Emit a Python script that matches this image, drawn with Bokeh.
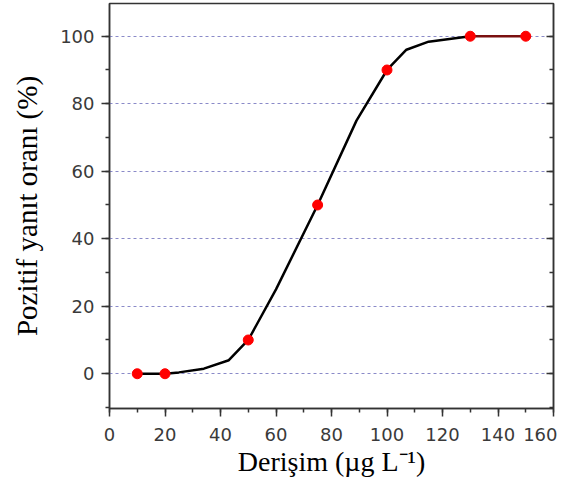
from bokeh.plotting import figure
from bokeh.models import Range1d, SingleIntervalTicker, LinearAxis
from bokeh.embed import file_html
from bokeh.resources import INLINE

# measured data points
conc = [10, 20, 50, 75, 100, 130, 150]
response = [0, 0, 10, 50, 90, 100, 100]

# fitted curve
curve_x = [10, 20, 25, 34, 43, 50, 60, 75, 89, 100, 107, 115, 130]
curve_y = [0, 0, 0.4, 1.5, 4, 10, 25, 50, 75, 90, 96, 98.4, 100]
plateau_x = [130, 150]
plateau_y = [100, 100]

x_ticks_interval = 20
y_ticks_interval = 20

p = figure(width=557, height=479, output_backend="svg", toolbar_location=None,
           x_range=Range1d(0, 160), y_range=Range1d(-10.3, 109.7),
           min_border_left=109, min_border_right=4, min_border_top=3, min_border_bottom=68)

p.background_fill_color = "white"
p.border_fill_color = "white"
p.outline_line_color = "#333333"
p.outline_line_width = 1.5

p.xaxis.ticker = SingleIntervalTicker(interval=x_ticks_interval, num_minor_ticks=2)
p.yaxis.ticker = SingleIntervalTicker(interval=y_ticks_interval, num_minor_ticks=2)

p.xgrid.grid_line_color = None
p.ygrid.ticker = SingleIntervalTicker(interval=y_ticks_interval)
p.ygrid.grid_line_color = "#8a8ac8"
p.ygrid.grid_line_dash = "3 3"
p.ygrid.grid_line_width = 1

for ax in (p.xaxis[0], p.yaxis[0]):
    ax.axis_line_color = "#333333"
    ax.axis_line_width = 1.5
    ax.major_tick_line_color = "#333333"
    ax.minor_tick_line_color = "#333333"
    ax.major_tick_line_width = 1.5
    ax.minor_tick_line_width = 1.5
    ax.major_tick_in = 0
    ax.minor_tick_in = 0
    ax.major_tick_out = 8
    ax.minor_tick_out = 4
    ax.major_label_text_font = "DejaVu Sans"
    ax.major_label_text_font_size = "18px"
    ax.major_label_text_color = "#3a3a3a"
    ax.axis_label_text_font = "Liberation Serif"
    ax.axis_label_text_font_style = "normal"
    ax.axis_label_text_color = "black"

p.xaxis.axis_label = "Derişim (µg L⁻¹)"
p.yaxis.axis_label = "Pozitif yanıt oranı (%)"
p.xaxis.axis_label_text_font_size = "28px"
p.yaxis.axis_label_text_font_size = "29px"
p.xaxis.major_label_standoff = 11
p.xaxis.axis_label_standoff = 2
p.yaxis.major_label_standoff = 7
p.yaxis.axis_label_standoff = 14

right = LinearAxis(ticker=SingleIntervalTicker(interval=y_ticks_interval, num_minor_ticks=2))
right.axis_line_color = "#333333"
right.axis_line_width = 1.5
right.major_tick_line_color = "#333333"
right.minor_tick_line_color = "#333333"
right.major_tick_line_width = 1.5
right.minor_tick_line_width = 1.5
right.major_tick_in = 7
right.major_tick_out = 0
right.minor_tick_in = 4
right.minor_tick_out = 0
right.major_label_text_color = None
right.major_label_text_font_size = "1px"
right.major_label_standoff = 0
p.add_layout(right, "right")

p.line(curve_x, curve_y, line_color="black", line_width=2.5)
p.line(plateau_x, plateau_y, line_color="#7a1010", line_width=2.5)
p.scatter(conc, response, size=10, fill_color="#ff0000", line_color="#ff0000")

open("out.html", "w").write(file_html(p, INLINE))
